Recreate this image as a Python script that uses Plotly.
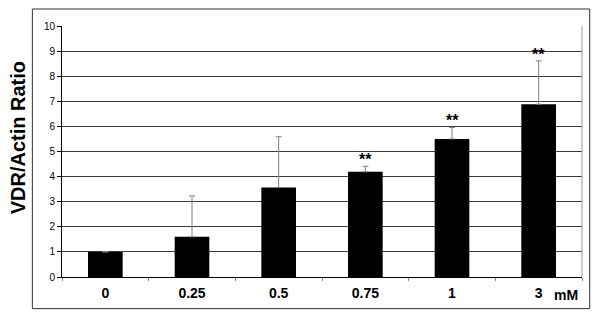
import plotly.graph_objects as go

categories = ["0", "0.25", "0.5", "0.75", "1", "3"]
values = [1.0, 1.6, 3.57, 4.19, 5.5, 6.88]
errors = [None, 1.63, 2.02, 0.22, 0.46, 1.73]
significance = ["", "", "", "**", "**", "**"]
y_ticks = list(range(0, 11))

FONT = "Liberation Sans, Arial, sans-serif"

fig = go.Figure()
fig.add_trace(go.Bar(
    x=categories, y=values,
    marker=dict(color="black", line=dict(color="black", width=0)),
    error_y=dict(type="data", array=errors, arrayminus=[0] * len(errors),
                 symmetric=False, color="#7f7f7f", thickness=1, width=3),
    showlegend=False,
))

for i, (v, e, s) in enumerate(zip(values, errors, significance)):
    if s:
        fig.add_annotation(x=i, y=v + (e or 0), text="<b>" + s + "</b>", showarrow=False,
                           yanchor="bottom", yshift=-4,
                           font=dict(family=FONT, size=16, color="black"))

fig.add_annotation(x=1.0, xref="paper", y=0, yref="paper", text="<b>mM</b>",
                   showarrow=False, xanchor="right", yanchor="top", yshift=-8, xshift=-2,
                   font=dict(family=FONT, size=14, color="black"))

# y-axis title
fig.add_annotation(x=-0.083, xref="paper", y=0.556, yref="paper",
                   text="<b>VDR/Actin Ratio</b>", textangle=-90, showarrow=False,
                   xanchor="center", yanchor="middle",
                   font=dict(family=FONT, size=20, color="black"))

# outer frame
fig.add_shape(type="rect", xref="paper", yref="paper",
              x0=-0.057, x1=1.0148, y0=-0.126, y1=1.0677,
              line=dict(color="#333333", width=1), layer="below")
# right edge of plot area
fig.add_shape(type="line", xref="paper", yref="paper", x0=1, x1=1, y0=0, y1=1,
              line=dict(color="#999999", width=1))

fig.update_layout(
    width=600, height=320,
    margin=dict(l=54, r=26, t=18, b=51),
    paper_bgcolor="white", plot_bgcolor="white",
    bargap=0.6,
    font=dict(family=FONT, color="black"),
    xaxis=dict(
        type="category", categoryorder="array", categoryarray=categories,
        showline=True, linecolor="black", linewidth=1,
        ticks="outside", tickson="boundaries", ticklen=3, tickcolor="#888888",
        showgrid=False, ticklabelstandoff=3,
        tickfont=dict(family=FONT, size=14, color="black"),
        ticktext=["<b>" + c + "</b>" for c in categories], tickvals=categories,
    ),
    yaxis=dict(
        range=[0, 10], tickvals=y_ticks, ticktext=[str(t) for t in y_ticks],
        showline=True, linecolor="black", linewidth=1,
        ticks="outside", ticklen=4, tickcolor="black",
        showgrid=True, gridcolor="#3a3a3a", gridwidth=1,
        zeroline=False,
        tickfont=dict(family=FONT, size=10, color="black"),
    ),
)

fig.write_html("out.html")
